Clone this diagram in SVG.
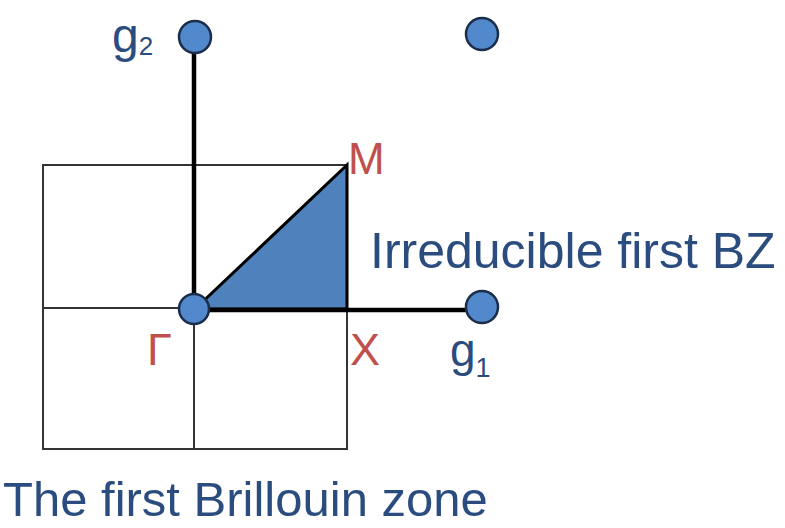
<svg xmlns="http://www.w3.org/2000/svg" width="785" height="528" viewBox="0 0 785 528">
<style>
.grid{fill:none;stroke:#333;stroke-width:2}
.axis{stroke:#000;stroke-width:4.5;fill:none}
.pt{fill:#5289CC;stroke:#1C2D4A;stroke-width:2.5}
.blue{font-family:"Liberation Sans",Arial,sans-serif;fill:#2B4C7E}
.red{font-family:"Liberation Sans",Arial,sans-serif;fill:#C0504D}
</style>
<rect width="785" height="528" fill="#fff"/>
<g id="grid">
<rect class="grid" x="43" y="165" width="304" height="284"/>
<line class="grid" x1="194" y1="165" x2="194" y2="449"/>
<line class="grid" x1="43" y1="308" x2="347" y2="308"/>
</g>
<g id="irreducible-bz">
<polygon points="195,309 347,165 347,309" fill="#4F81BD" stroke="#000" stroke-width="3"/>
</g>
<g id="connectors">
<line class="axis" x1="194" y1="309" x2="194" y2="37"/>
<line class="axis" x1="194" y1="310" x2="482" y2="310"/>
</g>
<g id="gamma"><circle class="pt" cx="194" cy="309" r="15"/><text class="red" x="147" y="365" font-size="45">Γ</text></g>
<g id="g2"><circle class="pt" cx="195" cy="37" r="16"/><text class="blue" x="112" y="52" font-size="48">g<tspan font-size="26" dy="3">2</tspan></text></g>
<g id="g12"><circle class="pt" cx="482" cy="34" r="16"/></g>
<g id="g1"><circle class="pt" cx="482" cy="307" r="16"/><text class="blue" x="450" y="366" font-size="46">g<tspan font-size="27" dy="11">1</tspan></text></g>
<g id="M"><text class="red" x="348" y="174" font-size="44">M</text></g>
<g id="X"><text class="red" x="350" y="365" font-size="45">X</text></g>
<text class="blue" x="370" y="268" font-size="50">Irreducible first BZ</text>
<text class="blue" x="3" y="516" font-size="49">The first Brillouin zone</text>
</svg>
